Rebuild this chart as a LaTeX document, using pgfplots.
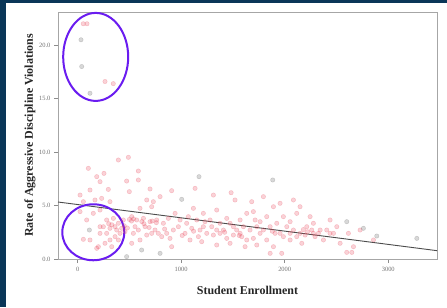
\documentclass[border=0pt]{standalone}
\usepackage{fontspec}
\setmainfont{Liberation Serif}
\usepackage{pgfplots}
\pgfplotsset{compat=1.18}
\definecolor{navy}{RGB}{10,54,88}
\definecolor{ring}{RGB}{106,28,240}
\definecolor{dotred}{RGB}{235,70,90}
\begin{document}
\begin{tikzpicture}[x=1bp,y=1bp]
\useasboundingbox (0,0) rectangle (447,307);
\fill[navy] (0,0) rectangle (447,307);
\fill[white] (6,0) rectangle (447,304);
\begin{axis}[
  at={(58bp,48bp)}, anchor=south west,
  width=379bp, height=247bp, scale only axis,
  xmin=-190, xmax=3471, ymin=0, ymax=23.1,
  clip=false,
  axis line style={black!35, line width=0.8bp},
  xtick={0,1000,2000,3000},
  ytick={0,5,10,15,20},
  yticklabels={0.0,5.0,10.0,15.0,20.0},
  xtick pos=bottom, ytick pos=left,
  tick align=outside,
  major tick length=4bp,
  tick style={black!45, line width=0.6bp},
  /pgf/number format/assume math mode=true,
  /pgf/number format/1000 sep={},
  ticklabel style={font=\fontsize{6.5}{7}\selectfont, text=black!55},
  xticklabel style={yshift=-1bp},
  xlabel={Student Enrollment},
  ylabel={Rate of Aggressive Discipline Violations},
  label style={font=\fontsize{12}{14}\selectfont\bfseries, text=black!85},
  xlabel style={at={(axis description cs:0.5,-0.1255)}, anchor=center},
  ylabel style={at={(axis description cs:-0.0739,0.5)}, anchor=center},
]
% regression line
\addplot[black!70, line width=0.9bp] coordinates {(-190,5.33) (3471,0.78)};
% pink points
\addplot[only marks, mark=*, mark size=2.2bp,
  mark options={fill=dotred, draw=dotred, fill opacity=0.24, draw opacity=0.3}]
coordinates {
(54,22.0) (90,22.0) (264,16.6) (344,16.4)
(103,8.48) (254,8.01) (184,7.70) (119,6.45) (23,5.98) (296,6.51) (216,7.23)
(167,5.52) (232,5.67) (312,5.36) (55,5.36) (151,4.27) (216,4.58) (280,3.65)
(345,3.80) (393,3.34) (248,3.02) (312,2.87) (377,2.71) (425,2.87) (216,2.40)
(280,2.40) (361,2.09) (55,1.84) (119,1.78) (200,1.15) (264,1.47) (329,1.15)
(184,1.00) (23,4.43) (87,3.65) (393,1.78) (457,2.56) (441,3.65)
(393,9.26) (490,9.51) (586,8.23) (473,7.29) (586,7.39) (499,6.30) (699,6.55)
(667,5.52) (731,5.36) (796,5.83) (602,4.74) (570,3.65) (554,3.02) (635,3.80)
(699,3.49) (763,3.65) (828,3.34) (747,2.71) (860,2.40) (892,1.93) (667,2.24)
(602,1.78) (538,2.40) (522,1.47) (715,4.89) (908,6.39) (941,4.27) (989,3.65)
(1053,3.34) (924,2.71) (1037,2.40) (1102,2.87) (1150,3.65) (1118,4.74)
(1134,6.61) (1085,1.78) (1166,2.09) (908,1.15) (812,2.09)
(1311,5.98) (1482,6.20) (1214,4.27) (1279,3.65) (1343,4.58) (1375,3.34)
(1440,3.80) (1504,3.02) (1569,3.65) (1633,4.27) (1697,4.43) (1762,3.49)
(1826,3.96) (1891,4.89) (1955,5.21) (1247,2.40) (1311,2.24) (1375,2.40)
(1440,1.93) (1504,2.24) (1569,2.40) (1633,1.78) (1697,1.93) (1762,2.40)
(1826,1.78) (1891,1.15) (1955,2.40) (1198,1.62) (1343,1.31) (1472,1.47)
(1617,1.15) (1730,1.31) (1859,0.53) (1971,0.53) (1520,5.52) (1681,5.36)
(1794,5.83) (1343,2.71) (1214,3.02) (1601,3.02) (1730,3.02) (1923,3.34)
(1987,3.96) (2052,3.49) (2116,4.27) (2148,4.89) (2084,2.71) (2148,2.40)
(2213,3.02) (2277,3.34) (2342,2.71) (2052,1.78) (2165,1.47) (2277,2.40)
(2020,3.02) (2245,3.96) (2293,2.09) (2406,2.71) (2438,3.65) (2374,1.78)
(2084,5.52) (2438,2.40)
(2728,2.71) (2471,2.40) (2535,1.47) (2664,1.15) (2615,2.40) (2599,0.62)
(2648,0.62) (2503,3.02) (2857,1.78)
(522,3.96) (586,2.71) (651,3.02) (715,2.40) (779,2.40) (876,3.80) (973,3.02)
(1069,3.96) (1182,2.71) (1230,3.49) (1295,3.02) (1408,2.71) (1472,3.34)
(1536,2.71) (1585,2.09) (1665,2.71) (1714,3.65) (1794,2.71) (1859,3.02)
(1907,2.40) (1987,2.09) (2052,2.40) (2116,2.09) (2197,2.24) (2261,2.71)
(2325,2.40) (361,3.02) (409,2.40) (312,1.78) (216,3.02)
(500,3.70) (520,3.55) (540,3.75) (620,3.50) (640,3.30) (720,3.55) (760,3.40)
(300,3.30) (330,3.20) (450,3.10) (480,2.90) (690,2.95) (840,2.80) (1120,2.60)
(1420,2.50) (1560,2.20) (1880,2.60) (2180,2.75) (2220,2.55) (1010,2.20)
};
% grey points
\addplot[only marks, mark=*, mark size=2.2bp,
  mark options={fill=black!55, draw=black!55, fill opacity=0.28, draw opacity=0.32}]
coordinates {
(32,20.5) (39,18.0) (119,15.5) (1884,7.39) (113,2.71) (618,0.84) (473,0.22)
(796,0.53) (3276,1.93) (2889,2.15) (2760,2.87) (2599,3.49) (1005,5.58) (1172,7.70)
};
% annotation ellipses
\draw[ring, line width=2bp] (axis cs:174,18.9) ellipse [x radius=32.5bp, y radius=44bp];
\draw[ring, line width=2bp] (axis cs:151,2.50) ellipse [x radius=31bp, y radius=28bp];
\end{axis}
\end{tikzpicture}
\end{document}
